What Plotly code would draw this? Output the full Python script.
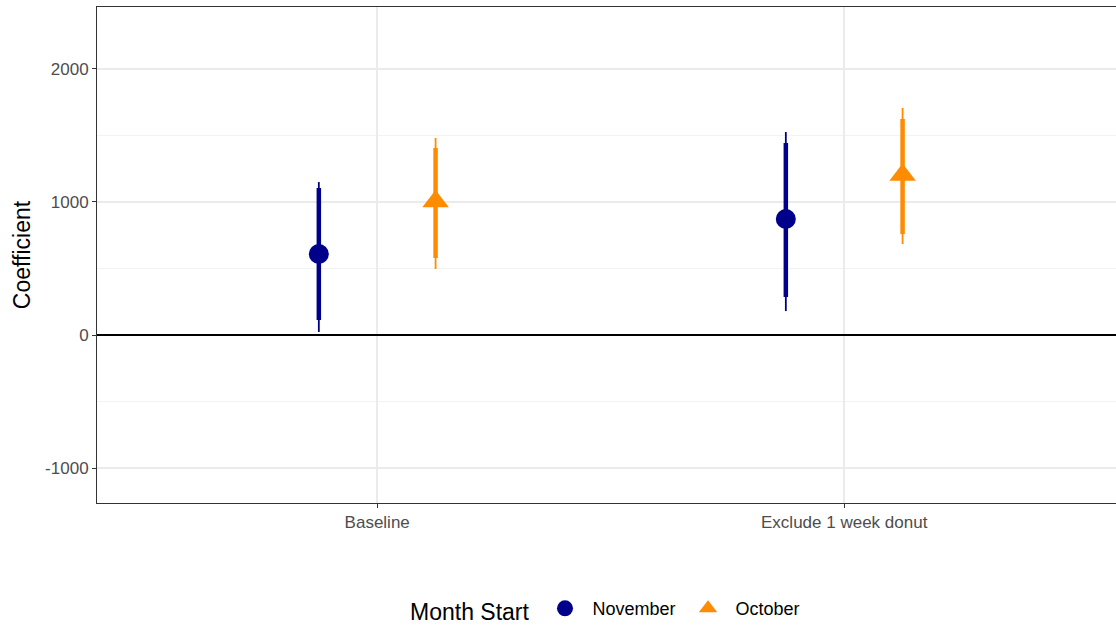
import plotly.graph_objects as go

categories = ["Baseline", "Exclude 1 week donut"]
series = ["November", "October"]
estimate = {"November": [609, 872], "October": [1003, 1203]}
ci90_low = {"November": [113, 286], "October": [579, 759]}
ci90_high = {"November": [1105, 1444], "October": [1406, 1624]}
ci95_low = {"November": [23, 180], "October": [496, 684]}
ci95_high = {"November": [1150, 1526], "October": [1481, 1707]}
y_ticks = [-1000, 0, 1000, 2000]
y_tick_labels = ["-1000", "0", "1000", "2000"]

colors = {"November": "#00008B", "October": "#FF8C00"}
symbols = {"November": "circle", "October": "triangle-up"}
msize = {"November": 20, "October": 23}
dodge = {"November": -0.125, "October": 0.125}

fig = go.Figure()
for s in series:
    xs = [i + 1 + dodge[s] for i in range(len(categories))]
    lx, ly = [], []
    for x, lo, hi in zip(xs, ci95_low[s], ci95_high[s]):
        lx += [x, x, None]
        ly += [lo, hi, None]
    fig.add_trace(go.Scatter(x=lx, y=ly, mode="lines", line=dict(color=colors[s], width=1.8),
                             showlegend=False, hoverinfo="skip"))
    lx, ly = [], []
    for x, lo, hi in zip(xs, ci90_low[s], ci90_high[s]):
        lx += [x, x, None]
        ly += [lo, hi, None]
    fig.add_trace(go.Scatter(x=lx, y=ly, mode="lines", line=dict(color=colors[s], width=4.5),
                             showlegend=False, hoverinfo="skip"))
    fig.add_trace(go.Scatter(x=xs, y=estimate[s], mode="markers", name=s,
                             marker=dict(color=colors[s], symbol=symbols[s], size=msize[s])))

fig.update_layout(
    width=1116, height=627,
    paper_bgcolor="white", plot_bgcolor="white",
    margin=dict(l=97, r=0, t=7, b=124, autoexpand=False),
    font=dict(family="Liberation Sans, Arial, sans-serif", color="#4D4D4D"),
    legend=dict(orientation="h", x=0.5, xanchor="center", y=-0.216, yanchor="middle",
                title=dict(text="Month Start", font=dict(size=23, color="black")),
                font=dict(size=18, color="black"), itemwidth=45),
    xaxis=dict(range=[0.4, 2.582], tickvals=[1, 2], ticktext=categories,
               showgrid=True, gridcolor="#EBEBEB", gridwidth=1.5,
               showline=True, linecolor="#333333", linewidth=1, mirror=True,
               ticks="outside", ticklen=4, tickcolor="#333333",
               tickfont=dict(size=17, color="#4D4D4D"), zeroline=False, automargin=False),
    yaxis=dict(range=[-1263, 2466], tickvals=y_ticks, ticktext=y_tick_labels,
               showgrid=True, gridcolor="#EBEBEB", gridwidth=1.5,
               minor=dict(tickvals=[-500, 500, 1500], showgrid=True, gridcolor="#F2F2F2", gridwidth=1),
               showline=True, linecolor="#333333", linewidth=1, mirror=False,
               ticks="outside", ticklen=4, tickcolor="#333333",
               tickfont=dict(size=17, color="#4D4D4D"),
               zeroline=True, zerolinecolor="black", zerolinewidth=1.6, automargin=False,
               title=dict(text="Coefficient", font=dict(size=23, color="black"), standoff=8)),
)

fig.write_html("out.html", config={"displayModeBar": False},
               post_script="document.body.style.margin='0';document.body.style.overflow='hidden';")
